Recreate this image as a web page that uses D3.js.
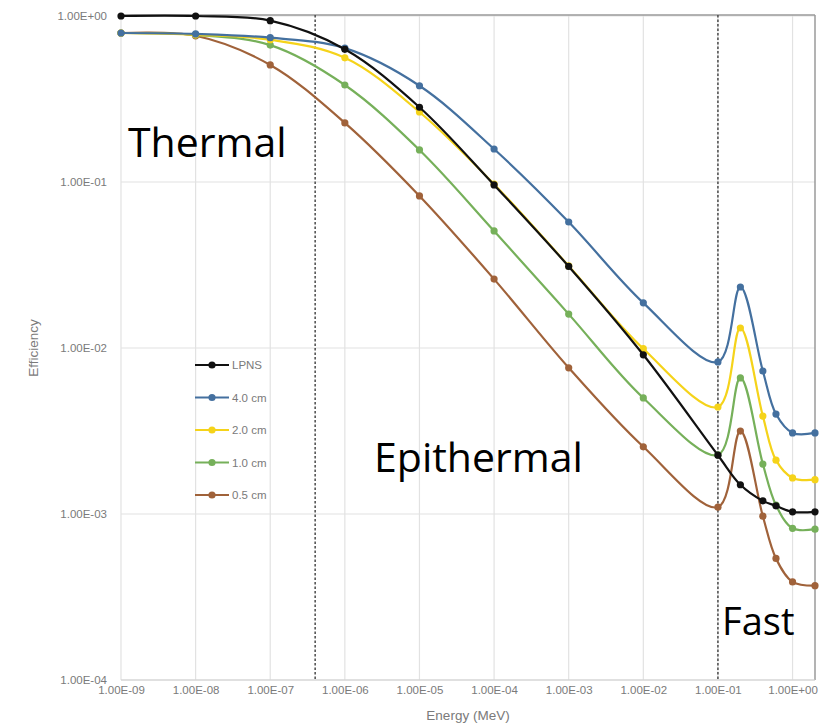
<!DOCTYPE html>
<html>
<head>
<meta charset="utf-8">
<script src="https://cdn.jsdelivr.net/npm/d3@7"></script>
<style>
  body { margin: 0; background: #fff; }
  svg { display: block; }
</style>
</head>
<body>
<svg id="chart" width="835" height="726"></svg>
<script>
// ---- data ----
const energies = [1e-9, 1e-8, 1e-7, 1e-6, 1e-5, 1e-4, 1e-3, 1e-2, 1e-1, 0.2, 0.4, 0.6, 1, 2];
const seriesNames = ["LPNS", "4.0 cm", "2.0 cm", "1.0 cm", "0.5 cm"];
const lpns  = [1.0, 1.0, 0.937, 0.63, 0.282, 0.096, 0.031, 0.0091, 0.00226, 0.0015, 0.0012, 0.00112, 0.00103, 0.00103];
const cm40  = [0.79, 0.78, 0.74, 0.64, 0.38, 0.158, 0.0574, 0.0187, 0.00824, 0.0233, 0.00727, 0.0040, 0.00308, 0.00308];
const cm20  = [0.79, 0.77, 0.72, 0.56, 0.264, 0.097, 0.0312, 0.0099, 0.00441, 0.0132, 0.00389, 0.00211, 0.00165, 0.00161];
const cm10  = [0.79, 0.77, 0.668, 0.384, 0.156, 0.0507, 0.016, 0.0050, 0.00227, 0.0066, 0.0020, 0.00113, 0.00082, 0.00081];
const cm05  = [0.79, 0.76, 0.507, 0.227, 0.0824, 0.026, 0.0076, 0.00254, 0.0011, 0.00316, 0.00097, 0.00054, 0.00039, 0.00037];
const seriesValues = [lpns, cm40, cm20, cm10, cm05];
const xTicks = [1e-9, 1e-8, 1e-7, 1e-6, 1e-5, 1e-4, 1e-3, 1e-2, 1e-1, 1];
const yTicks = [1e-4, 1e-3, 1e-2, 1e-1, 1];
const regionBounds = [4e-7, 1e-1];
const regionNames = ["Thermal", "Epithermal", "Fast"];

// ---- styles ----
const seriesColors = ["#111111", "#44709f", "#f5d31a", "#76b05a", "#a0623a"];
const labelAnchors = [[1.24e-9, 0.1415], [2.46e-6, 0.00179], [0.1138, 1.87e-4]];
const labelSizes = [41, 41, 38];
const smallFont = "Liberation Sans, Arial, sans-serif";

// ---- scales ----
const svg = d3.select("#chart");
const pL = 121, pR = 815, pT = 16, pB = 680;
const x = d3.scaleLog().domain([1e-9, 2]).range([pL, pR]);
const y = d3.scaleLog().domain([1e-4, 1]).range([pB, pT]);

function sci(v) {
  const e = Math.round(Math.log10(v));
  const m = v / Math.pow(10, e);
  const sign = e < 0 ? "-" : "+";
  return m.toFixed(2) + "E" + sign + String(Math.abs(e)).padStart(2, "0");
}

// gridlines
const grid = svg.append("g");
grid.selectAll("line.vg").data(xTicks).join("line")
  .attr("x1", d => x(d)).attr("x2", d => x(d))
  .attr("y1", pT - 1).attr("y2", pB)
  .attr("stroke", "#e2e2e2").attr("stroke-width", 1.2);
grid.selectAll("line.hg").data(yTicks).join("line")
  .attr("x1", pL).attr("x2", pR)
  .attr("y1", d => y(d)).attr("y2", d => y(d))
  .attr("stroke", "#e2e2e2").attr("stroke-width", 1.2);

// plot border
svg.append("line").attr("x1", pL).attr("x2", pR).attr("y1", pT - 1).attr("y2", pT - 1)
  .attr("stroke", "#9a9a9a").attr("stroke-width", 1.5);
svg.append("line").attr("x1", pR).attr("x2", pR).attr("y1", pT - 1).attr("y2", pB)
  .attr("stroke", "#9a9a9a").attr("stroke-width", 1.5);
svg.append("line").attr("x1", pL).attr("x2", pR).attr("y1", pB).attr("y2", pB)
  .attr("stroke", "#cfcfcf").attr("stroke-width", 1.2);

// axes
const xAxis = d3.axisBottom(x).tickValues(xTicks).tickFormat(sci).tickSize(0).tickPadding(6);
const gx = svg.append("g").attr("transform", `translate(0,${pB})`).call(xAxis);
gx.select(".domain").remove();
gx.selectAll("text").attr("font-family", smallFont)
  .attr("font-size", 11.5).attr("fill", "#7a7a7a");

const yAxis = d3.axisLeft(y).tickValues(yTicks).tickFormat(sci).tickSize(0).tickPadding(14);
const gy = svg.append("g").attr("transform", `translate(${pL},0)`).call(yAxis);
gy.select(".domain").remove();
gy.selectAll("text").attr("font-family", smallFont)
  .attr("font-size", 11.5).attr("fill", "#7a7a7a");

svg.append("text").attr("x", (pL + pR) / 2).attr("y", 720)
  .attr("text-anchor", "middle").attr("font-family", smallFont)
  .attr("font-size", 13.5).attr("fill", "#7a7a7a").text("Energy (MeV)");
svg.append("text").attr("transform", `translate(38,${(pT + pB) / 2}) rotate(-90)`)
  .attr("text-anchor", "middle").attr("font-family", smallFont)
  .attr("font-size", 13.5).attr("fill", "#7a7a7a").text("Efficiency");

// region dashed lines
svg.selectAll("line.region").data(regionBounds).join("line")
  .attr("x1", d => x(d)).attr("x2", d => x(d))
  .attr("y1", pT - 1).attr("y2", pB)
  .attr("stroke", "#4a4a4a").attr("stroke-width", 1.5).attr("stroke-dasharray", "2.5,2");

// series
const line = d3.line().x(d => x(d[0])).y(d => y(d[1])).curve(d3.curveCatmullRom.alpha(0.5));
const order = [4, 3, 2, 1, 0];
order.forEach(i => {
  const pts = energies.map((e, k) => [e, seriesValues[i][k]]);
  const g = svg.append("g");
  g.append("path").datum(pts).attr("d", line)
    .attr("fill", "none").attr("stroke", seriesColors[i]).attr("stroke-width", 2.2);
  g.selectAll("circle").data(pts).join("circle")
    .attr("cx", d => x(d[0])).attr("cy", d => y(d[1])).attr("r", 3.6)
    .attr("fill", seriesColors[i]);
});

// legend
const legend = svg.append("g");
seriesNames.forEach((n, i) => {
  const ly = 365 + i * 32.5;
  legend.append("line").attr("x1", 195).attr("x2", 229).attr("y1", ly).attr("y2", ly)
    .attr("stroke", seriesColors[i]).attr("stroke-width", 2.2);
  legend.append("circle").attr("cx", 212).attr("cy", ly).attr("r", 3.6).attr("fill", seriesColors[i]);
  legend.append("text").attr("x", 232).attr("y", ly + 4)
    .attr("font-family", smallFont).attr("font-size", 11.5)
    .attr("fill", "#7a7a7a").text(n);
});

// region labels
regionNames.forEach((t, i) => {
  svg.append("text")
    .attr("x", x(labelAnchors[i][0])).attr("y", y(labelAnchors[i][1]))
    .attr("font-family", "Open Sans, sans-serif").attr("font-size", labelSizes[i])
    .attr("fill", "#000").text(t);
});
</script>
</body>
</html>
